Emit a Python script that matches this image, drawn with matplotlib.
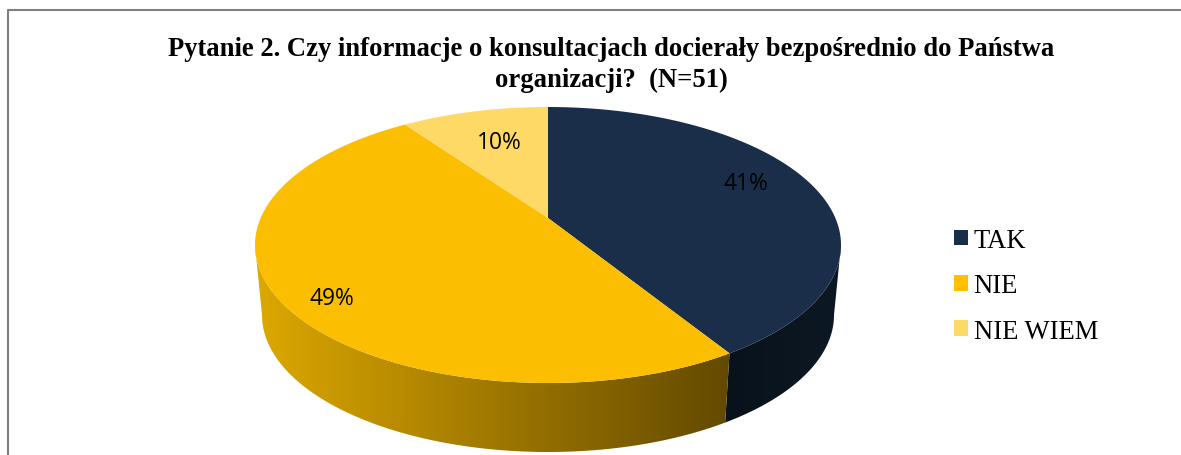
import numpy as np
import matplotlib
matplotlib.use("Agg")
import matplotlib.pyplot as plt
from matplotlib.lines import Line2D
from matplotlib.patches import Patch, Polygon
from matplotlib.colors import to_rgb

categories = ["TAK", "NIE", "NIE WIEM"]
counts = [21, 25, 5]
title = "Pytanie 2. Czy informacje o konsultacjach docierały bezpośrednio do Państwa\norganizacji?  (N=51)"

W, H = 1181, 456
CX, CY, RX, RY = 548, 246, 293, 138
BCX, BCY, BRX, BRY = 548, 316, 286, 137
PERSP = 0.196
top_colors = ["#1A2E4A", "#FBBE00", "#FFD966"]
legend_colors = ["#1A2E4A", "#FFC000", "#FFD966"]
wall_ramp = {0: ("#09121B", "#0C1823", 0.6, 1.0), 1: ("#DDA800", "#634900", -1.0, 0.62)}
label_px = [(746, 184), (332, 299), (499, 143)]

fig = plt.figure(figsize=(W / 100, H / 100), dpi=100, facecolor="white")
ax = fig.add_axes([0, 0, 1, 1])
xlim = ((0 - CX) / RX, (W - CX) / RX)
ylim = ((CY - H) / RY, CY / RY)
ax.axis("off")


def rim(theta):
    """Perspective projection of the pie rim; theta runs clockwise from the top."""
    u, v = np.sin(theta), np.cos(theta)
    d = 1 + PERSP * v
    return u * np.sqrt(1 - PERSP ** 2) / d, (v + PERSP) / d


def to_bottom(u, v):
    x = BCX + BRX * u
    y = BCY - BRY * v
    return (x - CX) / RX, (CY - y) / RY


fractions = np.array(counts) / sum(counts)
edges = np.concatenate([[0], np.cumsum(fractions)]) * 2 * np.pi
vis_start = np.arccos(-PERSP)
vis_end = 2 * np.pi - vis_start

# side wall: one gradient image per visible slice, clipped to the slice's wall
for i in range(len(counts)):
    a, b = max(edges[i], vis_start), min(edges[i + 1], vis_end)
    if a >= b:
        continue
    th = np.linspace(a, b, 300)
    u, v = rim(th)
    bu, bv = to_bottom(u, v)
    outline = np.c_[np.r_[u, bu[::-1]], np.r_[v, bv[::-1]]]
    c0, c1, u0, u1 = wall_ramp[i]
    grid = np.linspace(outline[:, 0].min(), outline[:, 0].max(), 400)
    t = np.clip((grid - u0) / (u1 - u0), 0, 1)[None, :, None]
    img = (1 - t) * np.array(to_rgb(c0)) + t * np.array(to_rgb(c1))
    extent = (grid[0], grid[-1], outline[:, 1].min(), outline[:, 1].max())
    im = ax.imshow(img, extent=extent, aspect="auto", zorder=1, interpolation="bilinear")
    poly = Polygon(outline, closed=True, transform=ax.transData, facecolor="none", edgecolor="none")
    ax.add_patch(poly)
    im.set_clip_path(poly)

# top face
for i in range(len(counts)):
    th = np.linspace(edges[i], edges[i + 1], 240)
    u, v = rim(th)
    ax.fill(np.r_[0.0, u], np.r_[PERSP, v], color=top_colors[i], lw=0, zorder=2)

ax.set_xlim(*xlim)
ax.set_ylim(*ylim)

for i, (lx, ly) in enumerate(label_px):
    ax.text((lx - CX) / RX, (CY - ly) / RY, f"{fractions[i] * 100:.0f}%",
            family="Open Sans", fontsize=16.4, color="#000000", ha="center", va="center", zorder=3)

fig.text(611.5 / W, 1 - 65 / H, title, family="Liberation Serif", weight="bold", fontsize=19.15,
         color="black", ha="center", va="center", linespacing=1.3)

handles = [Patch(facecolor=c, edgecolor="none") for c in legend_colors]
fig.legend(handles, categories, loc="upper left", bbox_to_anchor=(954 / W, 1 - 229 / H),
           frameon=False, prop={"family": "Liberation Serif", "size": 19.2},
           handlelength=0.52, handleheight=0.52, handletextpad=0.22, labelspacing=0.76,
           borderpad=0, borderaxespad=0)

fig.add_artist(Line2D([7.8 / W, 7.8 / W, 1], [0, 1 - 10.5 / H, 1 - 10.5 / H],
                      transform=fig.transFigure, color="#808080", lw=1.5))

fig.savefig("out.png", dpi=100)
